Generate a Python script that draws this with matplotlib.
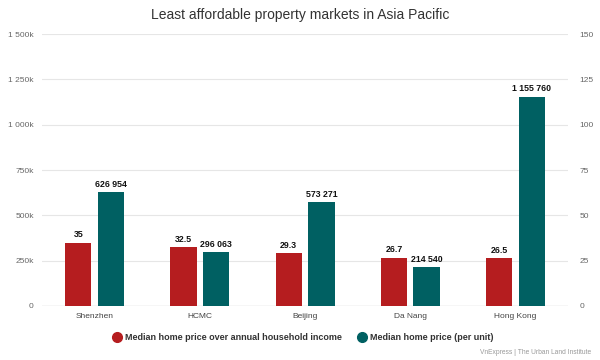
import matplotlib
matplotlib.use("Agg")
import matplotlib.pyplot as plt
import numpy as np
from matplotlib.lines import Line2D

categories = ["Shenzhen", "HCMC", "Beijing", "Da Nang", "Hong Kong"]
ratio = [35, 32.5, 29.3, 26.7, 26.5]
price = [626954, 296063, 573271, 214540, 1155760]
left_ticks = [0, 250000, 500000, 750000, 1000000, 1250000, 1500000]
left_labels = ["0", "250k", "500k", "750k", "1 000k", "1 250k", "1 500k"]
right_ticks = [0, 25, 50, 75, 100, 125, 150]

RED = "#B51D1F"
TEAL = "#006062"
FONT = "Liberation Sans"
plt.rcParams['font.family'] = [FONT, 'DejaVu Sans']

fig = plt.figure(figsize=(6, 3.6), dpi=100)
ax = fig.add_axes([0.07, 0.15, 0.877, 0.755])
ax2 = ax.twinx()

x = np.arange(len(categories))
w = 0.25
off = 0.155

ax.bar(x + off, price, width=w, color=TEAL, zorder=3)
ax2.bar(x - off, ratio, width=w, color=RED, zorder=3)

ax.set_ylim(0, 1500000)
ax2.set_ylim(0, 150)
ax.set_xlim(-0.5, len(categories) - 0.5)

ax.set_yticks(left_ticks)
ax.set_yticklabels(left_labels)
ax2.set_yticks(right_ticks)
ax2.set_yticklabels([str(t) for t in right_ticks])
ax.set_xticks(x)
ax.set_xticklabels(categories)

for a in (ax, ax2):
    for s in a.spines.values():
        s.set_visible(False)
    a.tick_params(axis='both', length=0, labelsize=6, labelcolor="#666666")
ax.tick_params(axis='y', pad=6)
ax2.tick_params(axis='y', pad=8)
ax.tick_params(axis='x', pad=5, labelcolor="#444444")
ax.grid(axis='y', color="#e6e6e6", linewidth=0.8, zorder=0)
ax.axhline(0, color="#d8d8d8", linewidth=1, zorder=1)

def fmt(v):
    return f"{v:,}".replace(",", " ")

for i, v in enumerate(price):
    ax.text(x[i] + off, v + 18000, fmt(v), ha='center', va='bottom',
            fontsize=6.3, fontweight='bold', color="#111111")
for i, v in enumerate(ratio):
    ax2.text(x[i] - off, v + 1.8, f"{v:g}", ha='center', va='bottom',
             fontsize=6.3, fontweight='bold', color="#111111")

fig.text(0.5, 0.957, "Least affordable property markets in Asia Pacific",
         ha='center', va='center', fontsize=10, color="#333333")

handles = [Line2D([], [], marker='o', linestyle='', markersize=7, color=RED),
           Line2D([], [], marker='o', linestyle='', markersize=7, color=TEAL)]
fig.legend(handles, ["Median home price over annual household income",
                     "Median home price (per unit)"],
           loc='center', bbox_to_anchor=(0.505, 0.062), ncol=2, frameon=False,
           prop={'size': 6.5, 'weight': 'bold'}, labelcolor="#333333",
           handletextpad=0.4, columnspacing=1.8, handlelength=1.0)

fig.text(0.985, 0.022, "VnExpress | The Urban Land Institute", ha='right',
         va='center', fontsize=4.8, color="#999999")

fig.savefig("out.png", dpi=100)
